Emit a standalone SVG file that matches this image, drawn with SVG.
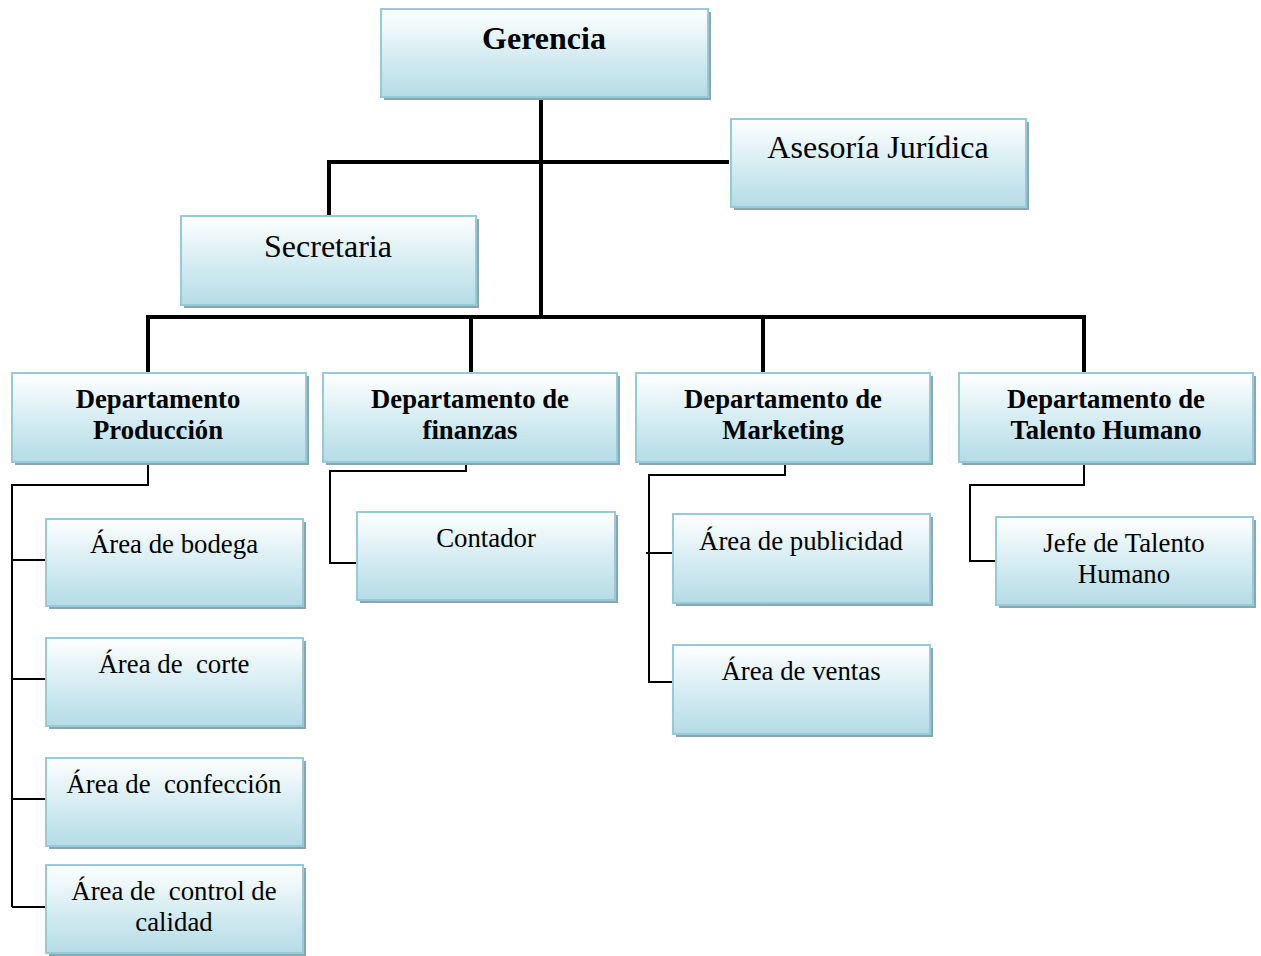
<svg xmlns="http://www.w3.org/2000/svg" width="1261" height="956" viewBox="0 0 1261 956">
  <defs>
    <linearGradient id="boxFill" x1="0" y1="0" x2="0" y2="1">
      <stop offset="0" stop-color="#ffffff"/>
      <stop offset="0.55" stop-color="#d3ebf1"/>
      <stop offset="1" stop-color="#b5dbe5"/>
    </linearGradient>
  </defs>
  <style>
    .shadow { fill: #8fa5ad; }
    .box { fill: url(#boxFill); stroke: #93cbdb; stroke-width: 2; }
    text { font-family: "Liberation Serif", "Times New Roman", serif; fill: #000; text-anchor: middle; }
    .title { font-size: 32px; font-weight: bold; }
    .dept { font-size: 26.7px; font-weight: bold; }
    .big { font-size: 32px; }
    .lbl { font-size: 26.8px; }
    .thick { stroke: #000; stroke-width: 4; fill: none; stroke-linecap: square; }
    .thin { stroke: #000; stroke-width: 2; fill: none; }
  </style>

  <!-- connectors -->
  <g id="connectors">
    <path class="thick" d="M541 99 V317 M329 162 H727 M329 162 V214 M148 317 H1084 M148 317 V371 M471 317 V371 M763 317 V371 M1084 317 V371"/>
    <path class="thin" d="M148 463 V485 H12 V907 M12 560 H46 M12 679 H46 M12 799 H46 M12 907 H46"/>
    <path class="thin" d="M466 463 V471 H330 V563 H357"/>
    <path class="thin" d="M785 463 V475 H649 V682 H673 M646 553 H673"/>
    <path class="thin" d="M1084 463 V485 H970 V561 H996"/>
  </g>

  <g id="gerencia">
    <rect class="shadow" x="384" y="12" width="327" height="88"/>
    <rect class="box" x="381" y="9" width="327" height="88"/>
    <text class="title" x="544" y="49">Gerencia</text>
  </g>

  <g id="asesoria">
    <rect class="shadow" x="734" y="122" width="295" height="88"/>
    <rect class="box" x="731" y="119" width="295" height="88"/>
    <text class="big" x="878" y="158">Asesoría Jurídica</text>
  </g>

  <g id="secretaria">
    <rect class="shadow" x="184" y="219" width="295" height="89"/>
    <rect class="box" x="181" y="216" width="295" height="89"/>
    <text class="big" x="328" y="257">Secretaria</text>
  </g>

  <g id="dep-produccion">
    <rect class="shadow" x="15" y="376" width="294" height="89"/>
    <rect class="box" x="12" y="373" width="294" height="89"/>
    <text class="dept" x="158" y="408">Departamento</text>
    <text class="dept" x="158" y="439">Producción</text>
  </g>

  <g id="dep-finanzas">
    <rect class="shadow" x="326" y="376" width="294" height="89"/>
    <rect class="box" x="323" y="373" width="294" height="89"/>
    <text class="dept" x="470" y="408">Departamento de</text>
    <text class="dept" x="470" y="439">finanzas</text>
  </g>

  <g id="dep-marketing">
    <rect class="shadow" x="639" y="376" width="294" height="89"/>
    <rect class="box" x="636" y="373" width="294" height="89"/>
    <text class="dept" x="783" y="408">Departamento de</text>
    <text class="dept" x="783" y="439">Marketing</text>
  </g>

  <g id="dep-talento">
    <rect class="shadow" x="962" y="376" width="294" height="89"/>
    <rect class="box" x="959" y="373" width="294" height="89"/>
    <text class="dept" x="1106" y="408">Departamento de</text>
    <text class="dept" x="1106" y="439">Talento Humano</text>
  </g>

  <g id="area-bodega">
    <rect class="shadow" x="49" y="522" width="257" height="87"/>
    <rect class="box" x="46" y="519" width="257" height="87"/>
    <text class="lbl" x="174" y="553">Área de bodega</text>
  </g>

  <g id="area-corte">
    <rect class="shadow" x="49" y="641" width="257" height="88"/>
    <rect class="box" x="46" y="638" width="257" height="88"/>
    <text class="lbl" x="174" y="673" xml:space="preserve">Área de  corte</text>
  </g>

  <g id="area-confeccion">
    <rect class="shadow" x="49" y="761" width="257" height="88"/>
    <rect class="box" x="46" y="758" width="257" height="88"/>
    <text class="lbl" x="174" y="793" xml:space="preserve">Área de  confección</text>
  </g>

  <g id="area-calidad">
    <rect class="shadow" x="49" y="868" width="257" height="88"/>
    <rect class="box" x="46" y="865" width="257" height="88"/>
    <text class="lbl" x="174" y="900" xml:space="preserve">Área de  control de</text>
    <text class="lbl" x="174" y="931">calidad</text>
  </g>

  <g id="contador">
    <rect class="shadow" x="360" y="515" width="258" height="88"/>
    <rect class="box" x="357" y="512" width="258" height="88"/>
    <text class="lbl" x="486" y="547">Contador</text>
  </g>

  <g id="area-publicidad">
    <rect class="shadow" x="676" y="517" width="257" height="89"/>
    <rect class="box" x="673" y="514" width="257" height="89"/>
    <text class="lbl" x="801" y="550">Área de publicidad</text>
  </g>

  <g id="area-ventas">
    <rect class="shadow" x="676" y="648" width="257" height="89"/>
    <rect class="box" x="673" y="645" width="257" height="89"/>
    <text class="lbl" x="801" y="680">Área de ventas</text>
  </g>

  <g id="jefe-talento">
    <rect class="shadow" x="999" y="520" width="257" height="88"/>
    <rect class="box" x="996" y="517" width="257" height="88"/>
    <text class="lbl" x="1124" y="552">Jefe de Talento</text>
    <text class="lbl" x="1124" y="583">Humano</text>
  </g>
</svg>
